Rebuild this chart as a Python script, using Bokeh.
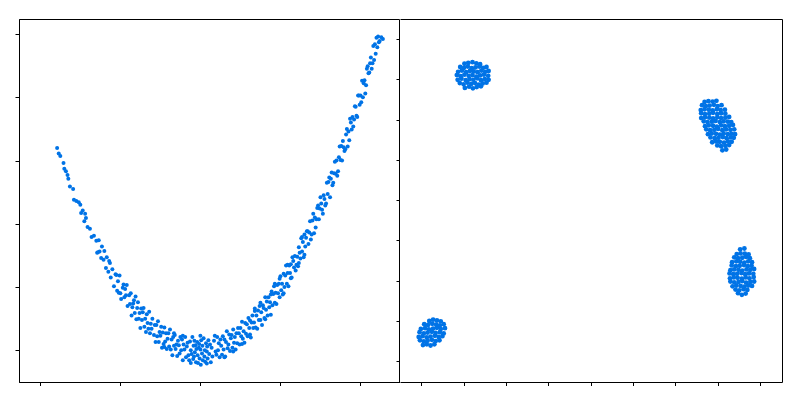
from bokeh.plotting import figure
from bokeh.layouts import row
from bokeh.models import Range1d, LinearAxis, FixedTicker
from bokeh.embed import file_html
from bokeh.resources import INLINE

# ---------------- data: left panel (curved band) ----------------
curve_x = [
    -1.79, -1.77, -1.75, -1.71, -1.70, -1.68, -1.66, -1.65, -1.63, -1.59,
    -1.58, -1.55, -1.52, -1.50, -1.49, -1.47, -1.45, -1.43, -1.41, -1.38, -1.36, -1.33,
    -1.30, -1.29, -1.27, -1.26, -1.24, -1.23, -1.21, -1.20, -1.18, -1.17, -1.15, -1.13, -1.12, -1.10, -1.08, -1.06,
    -1.05, -1.04, -1.03, -1.01, -1.00, -0.99, -0.97, -0.96, -0.95, -0.93, -0.92, -0.91, -0.89, -0.88, -0.87, -0.86,
    -0.84, -0.83, -0.82, -0.81,
    -0.80, -0.79, -0.78, -0.77, -0.76, -0.75, -0.74, -0.73, -0.72, -0.71, -0.70, -0.69, -0.68, -0.67, -0.66, -0.65,
    -0.64, -0.63, -0.62, -0.61, -0.60, -0.58, -0.57, -0.56,
    -0.55, -0.54, -0.53, -0.52, -0.51, -0.50, -0.49, -0.48, -0.47, -0.46, -0.45, -0.44, -0.43, -0.42, -0.41, -0.40,
    -0.39, -0.38, -0.37, -0.36, -0.35, -0.34, -0.33, -0.32, -0.31, -0.30,
    -0.29, -0.28, -0.27, -0.26, -0.25, -0.24, -0.23, -0.22, -0.21, -0.20, -0.19, -0.18, -0.17, -0.16, -0.15, -0.14,
    -0.13, -0.12, -0.11, -0.10, -0.09, -0.085, -0.08, -0.075, -0.07, -0.06, -0.055, -0.05,
    -0.04, -0.035, -0.03, -0.02, -0.015, -0.01, 0.00, 0.005, 0.01, 0.02, 0.025, 0.03, 0.04, 0.05, 0.055, 0.06,
    0.07, 0.08, 0.085, 0.09, 0.10, 0.11, 0.12, 0.13, 0.14, 0.15, 0.17, 0.19,
    0.20, 0.21, 0.22, 0.23, 0.24, 0.25, 0.26, 0.27, 0.28, 0.29, 0.30, 0.31, 0.32, 0.33, 0.34, 0.35,
    0.36, 0.37, 0.38, 0.39, 0.40, 0.41, 0.42, 0.43, 0.44, 0.45, 0.46, 0.47,
    0.48, 0.49, 0.50, 0.51, 0.52, 0.53, 0.54, 0.55, 0.56, 0.57, 0.58, 0.59, 0.60, 0.61, 0.62, 0.63,
    0.64, 0.65, 0.66, 0.67, 0.68, 0.69, 0.70, 0.71, 0.72, 0.73,
    0.74, 0.75, 0.76, 0.77, 0.78, 0.79, 0.80, 0.81, 0.82, 0.83, 0.84, 0.85, 0.86, 0.87, 0.88, 0.89,
    0.90, 0.91, 0.92, 0.93, 0.94, 0.95, 0.96, 0.97,
    0.98, 0.99, 1.00, 1.01, 1.02, 1.03, 1.04, 1.05, 1.06, 1.07, 1.08, 1.09, 1.10, 1.11, 1.12, 1.13,
    1.14, 1.15, 1.17, 1.18, 1.20, 1.21,
    1.22, 1.23, 1.24, 1.25, 1.26, 1.27, 1.28, 1.29, 1.30, 1.31, 1.32, 1.33, 1.35, 1.36, 1.37, 1.39,
    1.40, 1.42, 1.43, 1.45,
    1.47, 1.48, 1.49, 1.50, 1.52, 1.53, 1.54, 1.55, 1.56, 1.58, 1.59, 1.60, 1.62, 1.63, 1.64, 1.66, 1.67, 1.69,
    1.70, 1.71, 1.73, 1.74, 1.75, 1.77, 1.78, 1.79, 1.81, 1.82, 1.84, 1.85, 1.87, 1.89, 1.90, 1.92,
    1.94, 1.96, 1.97, 1.99, 2.00, 2.02, 2.03, 2.05, 2.06, 2.08, 2.10, 2.12, 2.14, 2.16,
    2.17, 2.18, 2.19, 2.20, 2.21, 2.22, 2.24, 2.28,
]
curve_y = [
    3.21, 3.12, 3.08, 2.97, 2.88, 2.84, 2.78, 2.72, 2.60, 2.56,
    2.39, 2.37, 2.35, 2.31, 2.18, 2.22, 2.05, 2.10, 1.96, 1.93, 1.80, 1.82,
    1.74, 1.55, 1.75, 1.57, 1.47, 1.65, 1.44, 1.58, 1.31, 1.48, 1.25, 1.39, 1.16, 1.29, 1.02, 1.21,
    1.20, 0.95, 1.10, 1.19, 0.91, 0.82, 1.00, 1.05, 0.85, 0.88, 1.04, 0.71, 0.88, 0.74, 0.91, 0.56,
    0.75, 0.80, 0.60, 0.86,
    0.50, 0.68, 0.77, 0.51, 0.60, 0.36, 0.67, 0.49, 0.61, 0.68, 0.38, 0.51, 0.30, 0.58, 0.44, 0.35,
    0.62, 0.28, 0.43, 0.35, 0.51, 0.25, 0.41, 0.14,
    0.41, 0.23, 0.47, 0.14, 0.30, 0.24, 0.38, 0.05, 0.29, 0.11, 0.37, 0.15, 0.28, 0.03, 0.19, 0.28,
    0.07, 0.34, 0.02, 0.18, -0.07, 0.22, 0.08, 0.25, 0.03, 0.10,
    -0.08, 0.16, 0.09, -0.04, 0.22, 0.01, 0.18, -0.15, 0.10, 0.02, 0.22, -0.10, 0.07, 0.13, -0.07, -0.15,
    0.15, 0.01, -0.05, 0.22, -0.13, 0.08, -0.09, 0.16, -0.02, 0.09, -0.18, 0.03,
    0.14, -0.07, -0.19, 0.05, 0.11, -0.12, 0.02, -0.22, 0.17, -0.04, 0.08, -0.15, 0.20, -0.09, 0.01, -0.17,
    0.12, -0.01, 0.07, -0.12, 0.17, -0.05, 0.10, -0.18, 0.05, -0.09, 0.16, -0.01,
    -0.06, 0.22, 0.01, 0.12, -0.10, 0.18, 0.08, -0.06, 0.23, 0.02, 0.18, -0.09, 0.14, 0.31, 0.04, 0.10,
    0.26, 0.00, 0.20, 0.25, 0.05, 0.34, 0.13, 0.22, 0.02, 0.28, 0.12, 0.36,
    0.28, 0.10, 0.36, 0.23, 0.46, 0.19, 0.31, 0.13, 0.44, 0.27, 0.42, 0.23, 0.52, 0.36, 0.48, 0.21,
    0.45, 0.56, 0.36, 0.45, 0.67, 0.37, 0.56, 0.35, 0.64, 0.49,
    0.71, 0.49, 0.61, 0.41, 0.72, 0.68, 0.52, 0.85, 0.65, 0.78, 0.56, 0.85, 0.69, 0.77, 0.57, 0.94,
    0.72, 0.90, 1.02, 0.76, 0.92, 0.74, 1.04, 0.91,
    1.06, 0.85, 1.18, 0.96, 1.06, 0.89, 1.22, 1.01, 1.19, 1.35, 1.06, 1.23, 1.02, 1.35, 1.23, 1.37,
    1.16, 1.48, 1.32, 1.50, 1.36, 1.49,
    1.34, 1.64, 1.55, 1.46, 1.78, 1.57, 1.72, 1.48, 1.84, 1.65, 1.79, 1.89, 1.69, 1.87, 2.05, 1.84,
    2.06, 1.86, 2.11, 2.08,
    2.30, 2.08, 2.25, 2.43, 2.23, 2.17, 2.46, 2.40, 2.30, 2.66, 2.48, 2.67, 2.43, 2.72, 2.82, 2.66, 2.81, 2.80,
    3.01, 2.77, 3.06, 3.23, 3.02, 3.01, 3.32, 3.22, 3.19, 3.42, 3.23, 3.47, 3.67, 3.50, 3.70, 3.66,
    3.86, 3.70, 4.04, 3.89, 4.04, 4.27, 4.01, 4.28, 4.07, 4.46, 4.39, 4.55, 4.46, 4.82,
    4.60, 4.85, 4.70, 4.95, 4.80, 4.97, 4.90, 4.93,
]
# additional points of the same band (denser right arm and bottom)
curve2_x = [
    0.62, 0.68, 0.75, 0.81, 0.88, 0.93, 0.99, 1.04, 1.09, 1.13, 1.16, 1.19, 1.23, 1.27, 1.30, 1.34,
    1.38, 1.41, 1.44, 1.46, 1.51, 1.57, 1.61, 1.65, 1.68, 1.72, 1.76, 1.80, 1.83, 1.86, 1.88, 1.91,
    1.93, 1.95, 1.98, 2.01, 2.04, 2.07, 2.09, 2.11, 2.13, 2.15, 2.23, 2.26,
    -1.44, -1.28, -1.14, -1.02, -0.94, -0.85,
    -0.45, -0.33, -0.22, -0.12, 0.00, 0.08, 0.18, 0.30, 0.41, 0.52,
]
curve2_y = [
    0.26, 0.63, 0.76, 0.50, 0.89, 1.06, 1.14, 0.91, 1.36, 1.15, 1.42, 1.27, 1.39, 1.80, 1.52, 1.89,
    1.76, 2.17, 1.95, 2.26, 2.33, 2.33, 2.74, 2.62, 2.99, 2.84, 3.24, 3.16, 3.51, 3.33, 3.61, 3.55,
    3.87, 3.72, 4.04, 3.93, 4.23, 4.20, 4.50, 4.40, 4.64, 4.55, 4.88, 4.96,
    2.17, 1.56, 1.42, 0.92, 0.98, 0.69,
    0.06, 0.28, 0.24, -0.19, 0.24, -0.20, 0.24, -0.10, -0.01, 0.11,
]

# ---------------- data: right panel (four blobs) ----------------
blob1_x = [1.02, 1.12, 1.21, 1.30, 1.40,
           0.90, 0.99, 1.08, 1.17, 1.26, 1.35, 1.44, 1.53,
           0.85, 0.94, 1.04, 1.13, 1.22, 1.31, 1.40, 1.49, 1.58,
           0.83, 0.92, 1.01, 1.11, 1.20, 1.29, 1.38, 1.47, 1.57,
           0.86, 0.95, 1.05, 1.14, 1.23, 1.32, 1.41, 1.50, 1.58,
           0.91, 1.00, 1.09, 1.18, 1.27, 1.36, 1.45, 1.53,
           1.01, 1.10, 1.20, 1.29, 1.38]
blob1_y = [6.80, 6.83, 6.79, 6.82, 6.84,
           6.92, 6.89, 6.93, 6.90, 6.92, 6.88, 6.91, 6.93,
           7.00, 7.03, 6.99, 7.02, 7.00, 7.04, 6.99, 7.02, 7.00,
           7.12, 7.09, 7.13, 7.10, 7.12, 7.08, 7.11, 7.13, 7.10,
           7.20, 7.23, 7.19, 7.22, 7.21, 7.19, 7.23, 7.20, 7.22,
           7.32, 7.30, 7.33, 7.29, 7.31, 7.33, 7.30, 7.32,
           7.40, 7.42, 7.44, 7.41, 7.39]

blob2_x = [7.10, 7.19,
           6.98, 7.07, 7.17, 7.26,
           6.86, 6.95, 7.04, 7.14, 7.23, 7.32,
           6.82, 6.92, 7.01, 7.11, 7.20, 7.30, 7.37,
           6.76, 6.85, 6.95, 7.04, 7.13, 7.23, 7.32, 7.40,
           6.72, 6.81, 6.91, 7.00, 7.10, 7.19, 7.29, 7.38,
           6.69, 6.78, 6.88, 6.97, 7.07, 7.16, 7.26, 7.35,
           6.66, 6.75, 6.85, 6.94, 7.04, 7.13, 7.23, 7.31,
           6.60, 6.69, 6.79, 6.88, 6.98, 7.07, 7.17, 7.26,
           6.60, 6.69, 6.79, 6.88, 6.98, 7.07, 7.17,
           6.59, 6.68, 6.78, 6.87, 6.97, 7.06, 7.16,
           6.62, 6.71, 6.80, 6.90, 6.99, 7.08,
           6.68, 6.77, 6.87, 6.96]
blob2_y = [5.25, 5.27,
           5.37, 5.35, 5.36, 5.38,
           5.45, 5.47, 5.46, 5.44, 5.47, 5.46,
           5.57, 5.55, 5.56, 5.58, 5.55, 5.57, 5.56,
           5.65, 5.67, 5.66, 5.64, 5.67, 5.65, 5.66, 5.65,
           5.77, 5.75, 5.76, 5.78, 5.75, 5.77, 5.76, 5.77,
           5.85, 5.87, 5.86, 5.84, 5.87, 5.85, 5.86, 5.88,
           5.97, 5.95, 5.96, 5.98, 5.95, 5.97, 5.96, 5.95,
           6.05, 6.07, 6.06, 6.04, 6.07, 6.05, 6.06, 6.08,
           6.17, 6.15, 6.16, 6.18, 6.15, 6.17, 6.16,
           6.25, 6.27, 6.26, 6.24, 6.27, 6.25, 6.26,
           6.37, 6.35, 6.36, 6.38, 6.35, 6.37,
           6.45, 6.47, 6.46, 6.48]

blob3_x = [7.47, 7.56, 7.65,
           7.41, 7.50, 7.60, 7.69,
           7.34, 7.43, 7.53, 7.62, 7.71, 7.80,
           7.29, 7.38, 7.48, 7.57, 7.66, 7.76, 7.85,
           7.28, 7.37, 7.46, 7.56, 7.65, 7.74, 7.84,
           7.27, 7.36, 7.45, 7.55, 7.64, 7.73, 7.83,
           7.29, 7.38, 7.48, 7.57, 7.67, 7.76, 7.85,
           7.32, 7.42, 7.51, 7.61, 7.70, 7.79,
           7.33, 7.43, 7.52, 7.62, 7.71, 7.80,
           7.38, 7.47, 7.57, 7.66, 7.75,
           7.44, 7.53, 7.63, 7.72,
           7.52, 7.62]
blob3_y = [1.70, 1.66, 1.69,
           1.79, 1.77, 1.80, 1.78,
           1.87, 1.89, 1.88, 1.86, 1.89, 1.88,
           1.99, 1.97, 1.98, 2.00, 1.96, 1.98, 1.99,
           2.07, 2.09, 2.08, 2.06, 2.09, 2.07, 2.10,
           2.19, 2.17, 2.18, 2.20, 2.17, 2.19, 2.18,
           2.27, 2.29, 2.28, 2.26, 2.29, 2.28, 2.30,
           2.39, 2.37, 2.38, 2.40, 2.37, 2.38,
           2.47, 2.49, 2.48, 2.46, 2.49, 2.47,
           2.59, 2.57, 2.58, 2.60, 2.57,
           2.67, 2.69, 2.68, 2.66,
           2.79, 2.81]

blob4_x = [0.03, 0.12, 0.21, 0.30,
           -0.04, 0.05, 0.14, 0.24, 0.33, 0.42,
           -0.07, 0.02, 0.12, 0.21, 0.31, 0.40, 0.49,
           -0.05, 0.05, 0.14, 0.24, 0.33, 0.43, 0.52,
           -0.02, 0.08, 0.17, 0.27, 0.36, 0.45, 0.55,
           0.06, 0.15, 0.25, 0.34, 0.43, 0.52,
           0.18, 0.27, 0.36, 0.45]
blob4_y = [0.41, 0.43, 0.40, 0.43,
           0.53, 0.50, 0.52, 0.54, 0.51, 0.53,
           0.61, 0.63, 0.60, 0.62, 0.64, 0.61, 0.63,
           0.73, 0.70, 0.72, 0.74, 0.71, 0.73, 0.70,
           0.81, 0.83, 0.80, 0.82, 0.84, 0.81, 0.83,
           0.93, 0.91, 0.94, 0.92, 0.90, 0.93,
           1.01, 1.04, 1.02, 1.00]

left_xticks = [-2, -1, 0, 1, 2]
left_yticks = [0, 1, 2, 3, 4, 5]
right_xticks = [0, 1, 2, 3, 4, 5, 6, 7, 8]
right_yticks = [0, 1, 2, 3, 4, 5, 6, 7, 8]

COLOR = "#0073e6"
CURVE_DOT = 4.0
BLOB_DOT = 4.8


def style_axis(ax, tick_out=4, tick_in=0, line=True):
    ax.major_label_text_font_size = "0px"
    ax.major_label_text_color = None
    ax.major_label_standoff = 0
    ax.major_tick_out = tick_out
    ax.major_tick_in = tick_in
    ax.minor_tick_out = 0
    ax.minor_tick_in = 0
    ax.axis_line_color = "black" if line else None
    ax.axis_line_width = 1
    ax.major_tick_line_color = "black"
    ax.major_tick_line_width = 1


def style_fig(p):
    p.background_fill_color = "white"
    p.border_fill_color = "white"
    p.xgrid.visible = False
    p.ygrid.visible = False


# ---------------- left figure ----------------
left = figure(frame_width=381, frame_height=363,
              x_range=Range1d(-2.26, 2.50), y_range=Range1d(-0.50, 5.24),
              output_backend="svg", toolbar_location=None,
              min_border_left=19, min_border_top=19,
              min_border_right=0, min_border_bottom=0)
style_fig(left)
left.outline_line_color = "black"
left.outline_line_width = 1
left.below[0].ticker = FixedTicker(ticks=left_xticks)
left.left[0].ticker = FixedTicker(ticks=left_yticks)
style_axis(left.below[0])
style_axis(left.left[0])

left.extra_y_ranges = {"ry": Range1d(-0.52, 8.50)}
rax = LinearAxis(y_range_name="ry", ticker=FixedTicker(ticks=right_yticks))
left.add_layout(rax, "right")
style_axis(rax, tick_out=0, tick_in=4)

for cx, cy in [(curve_x, curve_y), (curve2_x, curve2_y)]:
    left.scatter(cx, cy, size=CURVE_DOT, marker="circle",
                 fill_color=COLOR, line_color=None)

# ---------------- right figure ----------------
right = figure(frame_width=382, frame_height=363,
               x_range=Range1d(-0.50, 8.52), y_range=Range1d(-0.52, 8.50),
               output_backend="svg", toolbar_location=None,
               y_axis_location=None,
               min_border_left=0, min_border_top=19,
               min_border_right=2, min_border_bottom=0)
style_fig(right)
right.outline_line_color = None
right.below[0].ticker = FixedTicker(ticks=right_xticks)
style_axis(right.below[0])

top_ax = LinearAxis(ticker=FixedTicker(ticks=[]))
right.add_layout(top_ax, "above")
style_axis(top_ax, tick_out=0)
side_ax = LinearAxis(ticker=FixedTicker(ticks=[]))
right.add_layout(side_ax, "right")
style_axis(side_ax, tick_out=0)

for bx, by in [(blob1_x, blob1_y), (blob2_x, blob2_y),
               (blob3_x, blob3_y), (blob4_x, blob4_y)]:
    right.scatter(bx, by, size=BLOB_DOT, marker="circle",
                  fill_color=COLOR, line_color=None)

layout = row(left, right, spacing=0)

with open("out.html", "w") as f:
    f.write(file_html(layout, INLINE))
